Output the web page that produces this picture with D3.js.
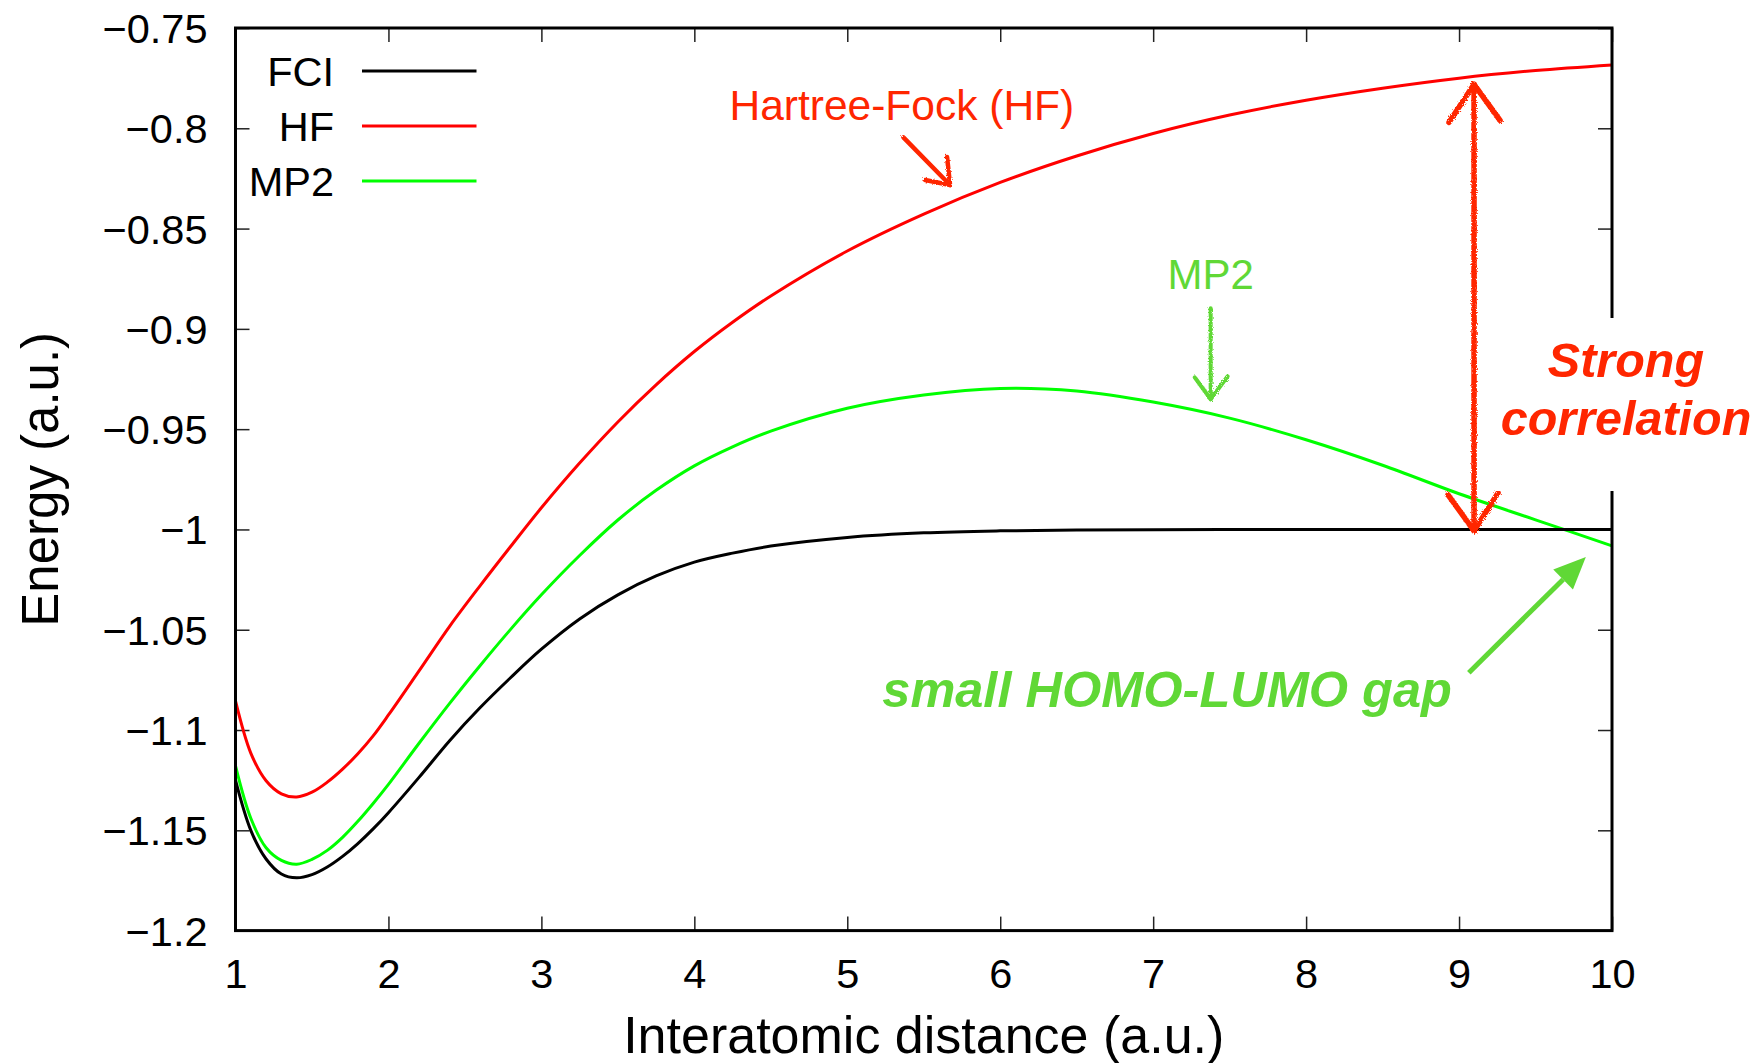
<!DOCTYPE html>
<html>
<head>
<meta charset="utf-8">
<script src="https://cdn.jsdelivr.net/npm/d3@7"></script>
<style>
  body { margin: 0; background: #fff; }
  text { font-family: "Liberation Sans", Arial, Helvetica, sans-serif; }
</style>
</head>
<body>
<div id="chart"></div>
<script>
// values (a.u.)
const distance = [1.0, 1.1, 1.2, 1.3, 1.4, 1.5, 1.6, 1.7, 1.8, 1.9, 2.0, 2.2, 2.4, 2.6, 2.8, 3.0, 3.25, 3.5, 3.75, 4.0, 4.25, 4.5, 5.0, 5.5, 6.0, 6.5, 7.0, 7.5, 8.0, 8.5, 9.0, 9.5, 10.0];
const fciEnergy = [-1.125, -1.150, -1.1643, -1.1718, -1.1737, -1.1721, -1.1683, -1.163, -1.1566, -1.1493, -1.1412, -1.1236, -1.1053, -1.0888, -1.0738, -1.0597, -1.0446, -1.0326, -1.0232, -1.0163, -1.0118, -1.0083, -1.004, -1.0017, -1.0007, -1.0003, -1.0001, -1.0, -1.0, -1.0, -1.0, -1.0, -1.0];
const hfEnergy = [-1.0855, -1.1115, -1.1253, -1.1318, -1.1334, -1.131, -1.126, -1.1195, -1.1118, -1.1029, -1.0925, -1.0705, -1.0483, -1.028, -1.0084, -0.9892, -0.9669, -0.9464, -0.9279, -0.9113, -0.8967, -0.8836, -0.8612, -0.8428, -0.827, -0.8138, -0.8026, -0.7934, -0.786, -0.78, -0.775, -0.7712, -0.7684];
const mp2Energy = [-1.1179, -1.144, -1.1587, -1.165, -1.1669, -1.1645, -1.16, -1.1535, -1.1455, -1.1366, -1.1271, -1.1066, -1.0867, -1.0678, -1.0497, -1.0326, -1.013, -0.9953, -0.9805, -0.9683, -0.9588, -0.951, -0.9396, -0.933, -0.9297, -0.931, -0.9365, -0.9445, -0.9553, -0.968, -0.9822, -0.9952, -1.0082];

const seriesNames = ["FCI", "HF", "MP2"];
const seriesColors = ["#000000", "#ff0000", "#00ff00"];
const xTicks = [1, 2, 3, 4, 5, 6, 7, 8, 9, 10];
const yTicks = [-0.75, -0.8, -0.85, -0.9, -0.95, -1, -1.05, -1.1, -1.15, -1.2];

const series = seriesNames.map((name, i) => ({
    name: name,
    color: seriesColors[i],
    values: distance.map((d, j) => ({ x: d, y: [fciEnergy, hfEnergy, mp2Energy][i][j] }))
}));

const W = 1758, H = 1063;
const margin = { top: 28, left: 235.5, right: W - 1612, bottom: H - 930.6 };
const width = W - margin.left - margin.right;
const height = H - margin.top - margin.bottom;

const annRed = "#ff2600";
const annGreen = "#60d836";

const svg = d3.select("#chart").append("svg").attr("width", W).attr("height", H);

// rough pencil look for the hand drawn arrows
const defs = svg.append("defs");
const rough = defs.append("filter").attr("id", "rough").attr("x", "-20%").attr("y", "-20%").attr("width", "140%").attr("height", "140%");
rough.append("feTurbulence").attr("type", "fractalNoise").attr("baseFrequency", 0.9).attr("numOctaves", 2).attr("result", "noise");
rough.append("feDisplacementMap").attr("in", "SourceGraphic").attr("in2", "noise").attr("scale", 4);

const g = svg.append("g").attr("transform", `translate(${margin.left},${margin.top})`);

const xScale = d3.scaleLinear().domain([1, 10]).range([0, width]);
const yScale = d3.scaleLinear().domain([-1.2, -0.75]).range([height, 0]);

const fmt = d3.format("~g");

// axes, ticks pointing inwards on all four sides
const xAxis = g.append("g").attr("transform", `translate(0,${height})`)
    .call(d3.axisBottom(xScale).tickValues(xTicks).tickSize(-14).tickPadding(28).tickFormat(fmt));
const yAxis = g.append("g")
    .call(d3.axisLeft(yScale).tickValues(yTicks).tickSize(-14).tickPadding(28).tickFormat(fmt));
const xTop = g.append("g")
    .call(d3.axisTop(xScale).tickValues(xTicks).tickSize(-14).tickFormat(""));
const yRight = g.append("g").attr("transform", `translate(${width},0)`)
    .call(d3.axisRight(yScale).tickValues(yTicks).tickSize(-14).tickFormat(""));

[xAxis, yAxis, xTop, yRight].forEach(a => {
    a.select(".domain").remove();
    a.selectAll(".tick line").attr("stroke", "#222").attr("stroke-width", 1.5);
    a.selectAll("text").attr("font-size", 41.5).attr("fill", "#000").attr("font-family", "Liberation Sans, Arial, sans-serif");
});
yAxis.selectAll("text").attr("dy", "0.35em");

// lines
const line = d3.line().x(d => xScale(d.x)).y(d => yScale(d.y)).curve(d3.curveCatmullRom.alpha(0.5));

g.selectAll("path.series")
    .data(series.slice().reverse())
    .join("path")
    .attr("class", "series")
    .attr("d", d => line(d.values))
    .attr("fill", "none")
    .attr("stroke", d => d.color)
    .attr("stroke-width", 3);

// frame
g.append("rect")
    .attr("width", width).attr("height", height)
    .attr("fill", "none").attr("stroke", "#000").attr("stroke-width", 3);

// legend
const legendG = g.append("g").attr("class", "legendG");
const legendItems = legendG.selectAll("g").data(series).join("g")
    .attr("transform", (d, i) => `translate(0,${43 + i * 55})`);
legendItems.append("text")
    .attr("x", 98.5).attr("dy", "0.35em")
    .attr("text-anchor", "end").attr("font-size", 41.5)
    .text(d => d.name);
legendItems.append("line")
    .attr("x1", 126.5).attr("x2", 241)
    .attr("stroke", d => d.color).attr("stroke-width", 3);

// axis titles
g.append("text")
    .attr("x", width / 2).attr("y", height + 122.5)
    .attr("text-anchor", "middle").attr("font-size", 52)
    .text("Interatomic distance (a.u.)");

g.append("text")
    .attr("transform", "rotate(-90)")
    .attr("x", -height / 2).attr("y", -177.5)
    .attr("text-anchor", "middle").attr("font-size", 51)
    .text("Energy (a.u.)");

// annotations
function sketchArrow(x1, y1, x2, y2, heads, color, sw) {
    const ag = g.append("g").attr("filter", "url(#rough)")
        .attr("stroke", color).attr("stroke-width", sw).attr("stroke-linecap", "round")
        .attr("stroke-linejoin", "round").attr("fill", "none");
    ag.append("line").attr("x1", x1).attr("y1", y1).attr("x2", x2).attr("y2", y2);
    heads.forEach(h => {
        ag.append("path").attr("d", `M${h.tx + h.a[0]},${h.ty + h.a[1]} L${h.tx},${h.ty} L${h.tx + h.b[0]},${h.ty + h.b[1]}`);
    });
}

// Hartree-Fock label and arrow
g.append("text")
    .attr("x", xScale(5.357)).attr("y", yScale(-0.7959))
    .attr("text-anchor", "middle").attr("font-size", 42.5).attr("fill", annRed)
    .text("Hartree-Fock (HF)");
{
    const tx = xScale(5.672), ty = yScale(-0.8283);
    sketchArrow(xScale(5.367), yScale(-0.8045), tx, ty, [{ tx, ty, a: [-25, -5], b: [-3, -28] }], annRed, 4.5);
}

// MP2 label and arrow
g.append("text")
    .attr("x", xScale(7.376)).attr("y", yScale(-0.8803))
    .attr("text-anchor", "middle").attr("font-size", 42).attr("fill", annGreen)
    .text("MP2");
{
    const tx = xScale(7.376), ty = yScale(-0.9351);
    sketchArrow(tx, yScale(-0.8897), tx, ty, [{ tx, ty, a: [-16, -22], b: [17, -23] }], annGreen, 4);
}

// strong correlation double arrow
{
    const ax = xScale(9.098);
    const topY = yScale(-0.7781), botY = yScale(-1.0007);
    sketchArrow(ax, topY, ax, botY, [
        { tx: ax, ty: topY, a: [-25, 38], b: [26, 36] },
        { tx: ax, ty: botY, a: [-26, -36], b: [24, -38] }
    ], annRed, 5.5);
}

// white box behind the label (interrupts the right axis)
g.append("rect")
    .attr("x", width - 117).attr("y", 290)
    .attr("width", 300).attr("height", 173)
    .attr("fill", "#fff");

const strongG = g.append("g")
    .attr("font-size", 48.5).attr("font-weight", 700).attr("font-style", "italic")
    .attr("fill", annRed).attr("text-anchor", "middle");
strongG.append("text").attr("x", width + 14).attr("y", 349.4).text("Strong");
strongG.append("text").attr("x", width + 14).attr("y", 406.5).text("correlation");

// small HOMO-LUMO gap label and arrow
g.append("text")
    .attr("x", xScale(5.229)).attr("y", yScale(-1.0883))
    .attr("font-size", 50.5).attr("font-weight", 700).attr("font-style", "italic")
    .attr("fill", annGreen)
    .text("small HOMO-LUMO gap");
{
    const x1 = xScale(9.064), y1 = yScale(-1.0714);
    const x2 = xScale(9.829), y2 = yScale(-1.0137);
    const ang = Math.atan2(y2 - y1, x2 - x1);
    const headLen = 32, halfW = 14;
    const bx = x2 - headLen * Math.cos(ang), by = y2 - headLen * Math.sin(ang);
    g.append("line")
        .attr("x1", x1).attr("y1", y1).attr("x2", bx).attr("y2", by)
        .attr("stroke", annGreen).attr("stroke-width", 5);
    g.append("path")
        .attr("d", `M${x2},${y2} L${bx + halfW * Math.sin(ang)},${by - halfW * Math.cos(ang)} L${bx - halfW * Math.sin(ang)},${by + halfW * Math.cos(ang)} Z`)
        .attr("fill", annGreen);
}
</script>
</body>
</html>
